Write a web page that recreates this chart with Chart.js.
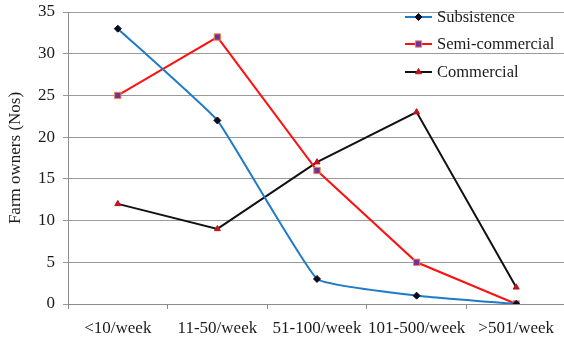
<!DOCTYPE html>
<html>
<head>
<meta charset="utf-8">
<script src="https://cdn.jsdelivr.net/npm/chart.js@4/dist/chart.umd.min.js"></script>
<style>
  html, body { margin: 0; padding: 0; background: #fff; }
  #wrap { width: 564px; height: 343px; position: relative; overflow: hidden; }
</style>
</head>
<body>
<div id="wrap"><canvas id="c" width="580" height="343"></canvas></div>
<script>
// Weekly sales volume classes
const categories = ['<10/week', '11-50/week', '51-100/week', '101-500/week', '>501/week'];
// Number of farm owners per enterprise type
const subsistence = [33, 22, 3, 1, 0];
const semiCommercial = [25, 32, 16, 5, 0];
const commercial = [12, 9, 17, 23, 2];
const yTicks = [0, 5, 10, 15, 20, 25, 30, 35];

const serif = '"Liberation Serif", "Times New Roman", serif';
const FS = 17;

function drawMarker(ctx, ds, x, y) {
  ctx.save();
  ctx.fillStyle = ds.pointBackgroundColor;
  ctx.strokeStyle = ds.pointBorderColor;
  ctx.lineWidth = ds.pointBorderWidth;
  Chart.helpers.drawPoint(ctx, {
    pointStyle: ds.pointStyle,
    rotation: ds.pointRotation || 0,
    radius: ds.pointRadius,
    borderWidth: ds.pointBorderWidth
  }, x, y);
  ctx.restore();
}

// Vertical legend drawn inside the upper-right of the plot
const sideLegend = {
  id: 'sideLegend',
  afterDatasetsDraw(chart) {
    const ctx = chart.ctx;
    const rows = [17, 44, 72];
    ctx.save();
    chart.data.datasets.forEach((ds, i) => {
      const y = rows[i];
      ctx.strokeStyle = ds.borderColor;
      ctx.lineWidth = 2;
      ctx.beginPath();
      ctx.moveTo(405, y);
      ctx.lineTo(432, y);
      ctx.stroke();
      drawMarker(ctx, ds, 418.5, y);
      ctx.fillStyle = '#1a1a1a';
      ctx.font = '16.5px ' + serif;
      ctx.textAlign = 'left';
      ctx.textBaseline = 'middle';
      ctx.fillText(ds.label, 437, y + 1);
    });
    ctx.restore();
  }
};

new Chart(document.getElementById('c'), {
  type: 'line',
  data: {
    labels: categories,
    datasets: [
      {
        label: 'Subsistence',
        data: subsistence,
        borderColor: '#1f7ac8',
        borderWidth: 2,
        tension: 0.1,
        pointStyle: 'rectRot',
        pointRadius: 3.5,
        pointBackgroundColor: '#0a0a1e',
        pointBorderColor: '#0a0a1e',
        pointBorderWidth: 1
      },
      {
        label: 'Semi-commercial',
        data: semiCommercial,
        borderColor: '#ff1010',
        borderWidth: 2,
        tension: 0,
        pointStyle: 'rect',
        pointRadius: 4.5,
        pointBackgroundColor: '#7030a0',
        pointBorderColor: '#f08a4b',
        pointBorderWidth: 1
      },
      {
        label: 'Commercial',
        data: commercial,
        borderColor: '#111111',
        borderWidth: 2,
        tension: 0,
        pointStyle: 'triangle',
        pointRadius: 3.5,
        pointBackgroundColor: '#c0141c',
        pointBorderColor: '#c0141c',
        pointBorderWidth: 1
      }
    ]
  },
  options: {
    responsive: false,
    animation: false,
    devicePixelRatio: 1,
    layout: { padding: { top: 12, right: 14, left: 0, bottom: 0 } },
    plugins: {
      legend: { display: false },
      tooltip: { enabled: false }
    },
    scales: {
      x: {
        type: 'category',
        offset: true,
        afterFit(s) { s.height = 39; },
        grid: {
          offset: true,
          drawOnChartArea: false,
          drawTicks: true,
          tickLength: 5,
          color: '#8c8c8c'
        },
        border: { display: true, color: '#8c8c8c', width: 1 },
        ticks: {
          color: '#1a1a1a',
          font: { family: serif, size: FS },
          padding: 9,
          maxRotation: 0,
          autoSkip: false
        }
      },
      y: {
        min: 0,
        max: 35,
        afterFit(s) { s.width = 68; s.paddingTop = 0; s.paddingBottom = 0; },
        afterBuildTicks(s) { s.ticks = yTicks.map(v => ({ value: v })); },
        grid: {
          color: '#9a9a9a',
          lineWidth: 1,
          drawTicks: true,
          tickLength: 5
        },
        border: { display: true, color: '#8c8c8c', width: 1 },
        ticks: {
          color: '#1a1a1a',
          font: { family: serif, size: FS },
          padding: 8
        },
        title: {
          display: true,
          text: 'Farm owners (Nos)',
          color: '#1a1a1a',
          font: { family: serif, size: FS },
          padding: { top: 5, bottom: 0 }
        }
      }
    }
  },
  plugins: [sideLegend]
});
</script>
</body>
</html>
